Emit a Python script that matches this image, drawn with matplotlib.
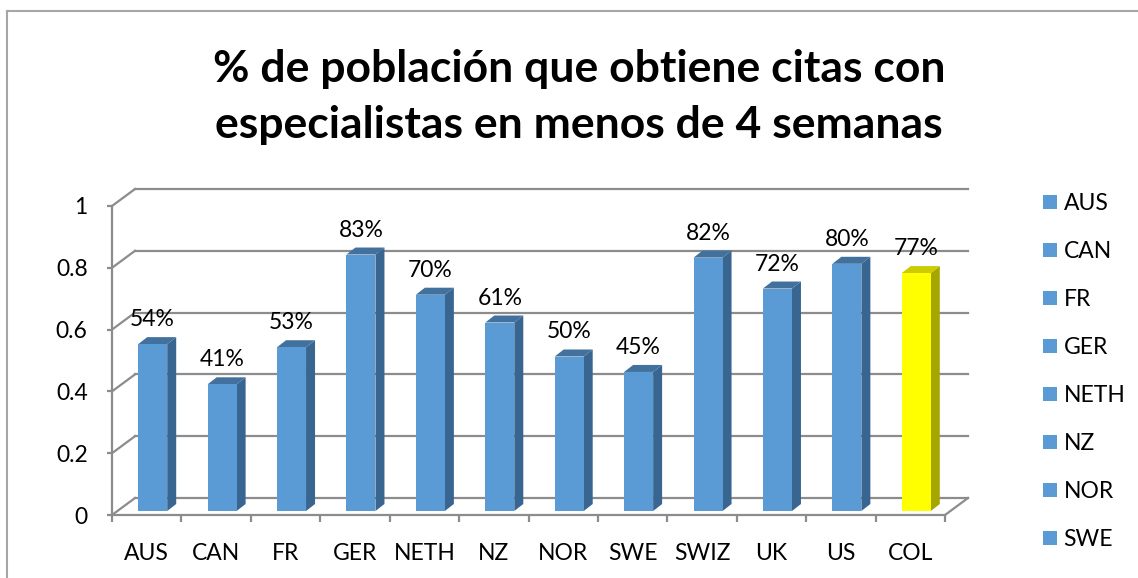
import matplotlib
matplotlib.use("Agg")
import matplotlib.pyplot as plt
from matplotlib.patches import Polygon, Patch
from matplotlib.lines import Line2D
import numpy as np

plt.rcParams['font.family'] = ['Lato', 'DejaVu Sans']

categories = ["AUS", "CAN", "FR", "GER", "NETH", "NZ", "NOR", "SWE", "SWIZ", "UK", "US", "COL"]
values = [0.54, 0.41, 0.53, 0.83, 0.70, 0.61, 0.50, 0.45, 0.82, 0.72, 0.80, 0.77]
labels = ["54%", "41%", "53%", "83%", "70%", "61%", "50%", "45%", "82%", "72%", "80%", "77%"]
yticks = [0, 0.2, 0.4, 0.6, 0.8, 1]
ytick_labels = ["0", "0.2", "0.4", "0.6", "0.8", "1"]
legend_items = categories[:8]
title = "% de población que obtiene citas con\nespecialistas en menos de 4 semanas"

W, H = 1138, 578
fig = plt.figure(figsize=(W / 100, H / 100), dpi=100)

# chart frame lines
fig.add_artist(Line2D([7 / W, 1.0], [1 - 11 / H, 1 - 11 / H], color="#A6A6A6", lw=1.5))
fig.add_artist(Line2D([7 / W, 7 / W], [1 - 11 / H, 0], color="#A6A6A6", lw=1.5))

ax_l, ax_r, ax_b, ax_t = 112, 945, 515, 206
ax = fig.add_axes([ax_l / W, 1 - ax_b / H, (ax_r - ax_l) / W, (ax_b - ax_t) / H])
n = len(categories)
ax.set_xlim(-0.5, n - 0.5)
ax.set_ylim(0, 1)
ppx = (ax_r - ax_l) / n       # pixels per category unit
ppy = (ax_b - ax_t) / 1.0     # pixels per value unit

grid_c = "#8C8C8C"
glw = 1.6
# back wall offset
bdx, bdy = 23 / ppx, 17 / ppy
x0, x1 = -0.5, n - 0.5
for v in yticks:
    ax.plot([x0 + bdx, x1 + bdx], [v + bdy, v + bdy], color=grid_c, lw=glw, clip_on=False, zorder=1)
    ax.plot([x0, x0 + bdx], [v, v + bdy], color=grid_c, lw=glw, clip_on=False, zorder=1)
# floor right edge
ax.plot([x1, x1 + bdx], [0, bdy], color=grid_c, lw=glw, clip_on=False, zorder=1)

# bars
pdx, pdy = 6 / ppx, 4 / ppy     # bar plane offset
sdx, sdy = 9 / ppx, 7 / ppy     # bar depth
bw = 29 / ppx
for i, (v, lab) in enumerate(zip(values, labels)):
    if categories[i] == "COL":
        fc, sc, tc = "#FFFF00", "#A6A600", "#CCCC00"
    else:
        fc, sc, tc = "#5B9BD5", "#386690", "#41719C"
    xl = i - bw / 2 + pdx
    xr = i + bw / 2 + pdx
    yb = pdy
    yt = v + pdy
    ax.add_patch(Polygon([(xr, yb), (xr + sdx, yb + sdy), (xr + sdx, yt + sdy), (xr, yt)],
                         closed=True, fc=sc, ec="none", zorder=3, clip_on=False))
    ax.add_patch(Polygon([(xl, yt), (xr, yt), (xr + sdx, yt + sdy), (xl + sdx, yt + sdy)],
                         closed=True, fc=tc, ec="none", zorder=3, clip_on=False))
    ax.bar(i + pdx, v, width=bw, bottom=yb, color=fc, zorder=4, clip_on=False)
    ax.annotate(lab, (i + pdx, yt), xytext=(0, 18), textcoords="offset pixels",
                ha="center", va="baseline", fontsize=16.5, color="black", zorder=5,
                annotation_clip=False)

# axes styling
for s in ["top", "right"]:
    ax.spines[s].set_visible(False)
for s in ["left", "bottom"]:
    ax.spines[s].set_color(grid_c)
    ax.spines[s].set_linewidth(glw)
ax.set_facecolor("none")
ax.set_yticks(yticks)
ax.set_yticklabels(ytick_labels, fontsize=16.5)
ax.tick_params(axis="y", length=3.5, width=glw, color=grid_c, pad=14)
ax.set_xticks(range(n))
ax.set_xticklabels(categories, fontsize=16.5)
ax.set_xticks(np.arange(-0.5, n, 1), minor=True)
ax.tick_params(axis="x", which="major", length=0, pad=20)
ax.tick_params(axis="x", which="minor", length=5, width=glw, color=grid_c)

# title
fig.text(579 / W, 1 - 97 / H, title, ha="center", va="center", fontsize=32,
         fontweight="bold", linespacing=1.49)

# legend
handles = [Patch(facecolor="#5B9BD5", edgecolor="none", label=c) for c in legend_items]
fig.legend(handles=handles, loc="upper left", bbox_to_anchor=(1043 / W, 1 - 193 / H),
           frameon=False, fontsize=16.5, handlelength=0.6, handleheight=0.6,
           handletextpad=0.3, labelspacing=1.18, borderaxespad=0, borderpad=0)

fig.savefig("out.png", dpi=100)
